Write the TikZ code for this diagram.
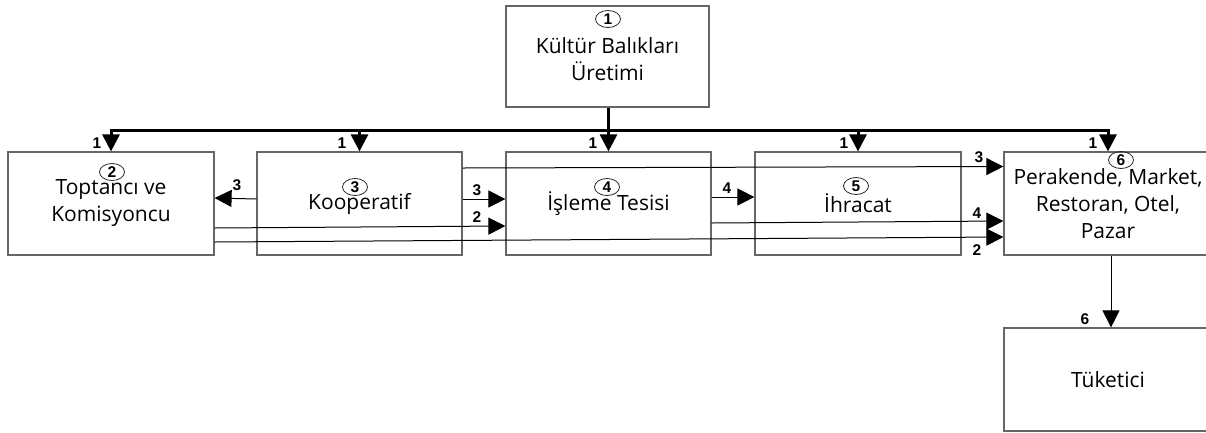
\documentclass[tikz,border=0pt]{standalone}
\usepackage{fontspec}
\setmainfont{Open Sans}
\newfontfamily\labfont{Liberation Sans}
\usetikzlibrary{arrows.meta,shapes.geometric}
\begin{document}
\begin{tikzpicture}[x=1pt,y=-1pt,
  box/.style={draw=black!60, line width=1.2pt, rectangle, inner sep=0pt, align=center,
              font=\fontsize{21}{27}\selectfont},
  num/.style={draw=black!85, ellipse, line width=0.8pt, minimum width=25pt, minimum height=17pt,
              inner sep=0pt, font=\labfont\bfseries\fontsize{15.5}{15.5}\selectfont},
  lab/.style={font=\labfont\bfseries\fontsize{15.5}{15.5}\selectfont, inner sep=0pt},
  busline/.style={line width=3pt},
  busarrow/.style={line width=3pt, -{Triangle[length=17pt,width=17pt]}},
  link/.style={line width=1pt, -{Triangle[length=17pt,width=17pt]}},
]
\useasboundingbox (0,0) rectangle (1206,432);
\fill[white] (0,0) rectangle (1206,432);

% boxes
\node[box, minimum width=203pt, minimum height=101pt] (b1) at (607.5,56.5) {\\[-6pt]Kültür Balıkları\\Üretimi};
\node[box, minimum width=206pt, minimum height=103pt] (b2) at (111,203.5) {Toptancı ve\\Komisyoncu};
\node[box, minimum width=205pt, minimum height=103pt] (b3) at (359.5,203.5) {Kooperatif};
\node[box, minimum width=205pt, minimum height=103pt] (b4) at (608.5,203.5) {İşleme Tesisi};
\node[box, minimum width=206pt, minimum height=103pt] (b5) at (858,203.5) {İhracat};
\node[box, minimum width=208pt, minimum height=103pt] (b6) at (1108,203.5) {Perakende, Market,\\Restoran, Otel,\\Pazar};
\node[box, minimum width=208pt, minimum height=103pt] (b7) at (1108,379.5) {Tüketici};

% circled numbers
\node[num] (n1) at (608,19) {1};
\node[num] (n2) at (112,172) {2};
\node[num] (n3) at (355,187) {3};
\node[num] (n4) at (607,187) {4};
\node[num] (n5) at (856,186) {5};
\node[num] (n6) at (1121,160) {6};

% bus from production
\coordinate (bus) at (b4.north |- 0,130);
\draw[busline] (b1.south -| bus) -- (bus);
\draw[busarrow] (bus) -| (b2.north);
\draw[busarrow] (bus) -| (b6.north);
\draw[busarrow] (b3.north |- bus) -- (b3.north);
\draw[busarrow] (bus) -- (b4.north);
\draw[busarrow] (b5.north |- bus) -- (b5.north);
\node[lab] (l1) at (97,143) {1};
\node[lab] (l2) at (342,143) {1};
\node[lab] (l3) at (593,143) {1};
\node[lab] (l4) at (844,143) {1};
\node[lab] (l5) at (1093,143) {1};

% links
\draw[link] ([yshift=4.5pt]b3.west) -- ([yshift=5.5pt]b2.east);
\node[lab] (m1) at (237,185) {3};
\draw[link] ([yshift=4.5pt]b3.east) -- ([yshift=4.5pt]b4.west);
\node[lab] (m2) at (477,190) {3};
\draw[link] ([yshift=-24.5pt]b2.east) -- ([yshift=-22.5pt]b4.west);
\node[lab] (m3) at (477,217) {2};
\draw[link] ([yshift=-38.5pt]b2.east) -- ([yshift=-33.5pt]b6.west);
\node[lab] (m4) at (977,250) {2};
\draw[link] ([yshift=35.5pt]b3.east) -- ([yshift=37pt]b6.west);
\node[lab] (m5) at (979,157) {3};
\draw[link] ([yshift=6.5pt]b4.east) -- ([yshift=6.5pt]b5.west);
\node[lab] (m6) at (727,188) {4};
\draw[link] ([yshift=-19.5pt]b4.east) -- ([yshift=-17.5pt]b6.west);
\node[lab] (m7) at (977,213) {4};
\draw[link] ([xshift=3pt]b6.south) -- ([xshift=3pt]b7.north);
\node[lab] (m8) at (1085,319) {6};
\end{tikzpicture}
\end{document}
